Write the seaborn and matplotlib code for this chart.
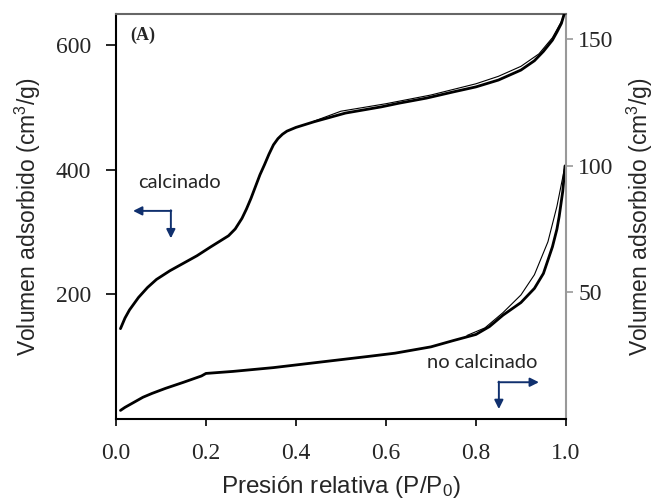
import matplotlib
matplotlib.use("Agg")
import matplotlib.pyplot as plt
import seaborn as sns
import pandas as pd

# --- data -------------------------------------------------------------
calc_ads_x = [0.01, 0.02, 0.03, 0.05, 0.07, 0.09, 0.12, 0.15, 0.18, 0.21, 0.23, 0.25,
              0.265, 0.28, 0.29, 0.30, 0.31, 0.32, 0.33, 0.34, 0.35, 0.36, 0.37, 0.38,
              0.40, 0.44, 0.51, 0.59, 0.63, 0.69, 0.75, 0.80, 0.85, 0.90, 0.93, 0.95,
              0.97, 0.98, 0.99, 0.997]
calc_ads_y = [145, 162, 175, 195, 211, 224, 238, 250, 262, 276, 285, 294,
              305, 322, 337, 354, 373, 392, 408, 425, 440, 450, 457, 462,
              468, 477, 491, 501, 507, 515, 525, 533, 544, 560, 575, 590,
              608, 621, 635, 652]
calc_des_x = [0.44, 0.50, 0.60, 0.70, 0.80, 0.85, 0.90, 0.94, 0.97, 0.99, 0.997]
calc_des_y = [478, 494, 506, 520, 538, 550, 566, 586, 612, 638, 652]

nocalc_ads_x = [0.01, 0.02, 0.04, 0.06, 0.08, 0.11, 0.15, 0.19, 0.20, 0.26, 0.35, 0.45,
                0.56, 0.62, 0.70, 0.75, 0.80, 0.83, 0.86, 0.88, 0.90, 0.93, 0.95, 0.97,
                0.98, 0.985, 0.993, 0.998]
nocalc_ads_y = [3.4, 4.6, 6.6, 8.6, 10.1, 12.1, 14.5, 17.0, 18.0, 18.8, 20.3, 22.4,
                24.7, 26.0, 28.5, 31.0, 33.4, 36.5, 41.0, 43.5, 46.0, 51.6, 57.5, 68.0,
                75.0, 80.0, 90.0, 100.0]
nocalc_des_x = [0.78, 0.82, 0.86, 0.90, 0.93, 0.96, 0.98, 0.998]
nocalc_des_y = [33, 36, 42, 49, 57, 70, 84, 100]

x_ticks = [0.0, 0.2, 0.4, 0.6, 0.8, 1.0]
left_ticks = [200, 400, 600]
right_ticks = [50, 100, 150]

# --- style ------------------------------------------------------------
sns.set_style("white")
plt.rcParams["font.family"] = ["Liberation Sans", "DejaVu Sans"]
plt.rcParams["mathtext.fontset"] = "custom"
plt.rcParams["mathtext.rm"] = "Liberation Sans"
plt.rcParams["mathtext.it"] = "Liberation Sans"

fig = plt.figure(figsize=(6.65, 5), dpi=100)
ax = fig.add_axes([0.1744, 0.162, 0.6766, 0.81])
ax2 = ax.twinx()

df_ca = pd.DataFrame({"x": calc_ads_x, "y": calc_ads_y})
df_cd = pd.DataFrame({"x": calc_des_x, "y": calc_des_y})
df_na = pd.DataFrame({"x": nocalc_ads_x, "y": nocalc_ads_y})
df_nd = pd.DataFrame({"x": nocalc_des_x, "y": nocalc_des_y})

sns.lineplot(data=df_cd, x="x", y="y", ax=ax, color="black", lw=0.8, sort=False)
sns.lineplot(data=df_ca, x="x", y="y", ax=ax, color="black", lw=2.0, sort=False)
sns.lineplot(data=df_nd, x="x", y="y", ax=ax2, color="black", lw=0.8, sort=False)
sns.lineplot(data=df_na, x="x", y="y", ax=ax2, color="black", lw=2.0, sort=False)

ax.set_xlim(0, 1.0)
ax.set_ylim(0, 650)
ax2.set_ylim(0, 160)

serif = "Liberation Serif"
ax.set_xticks(x_ticks)
ax.set_xticklabels([f"{v:.1f}" for v in x_ticks], fontfamily=serif, fontsize=17)
ax.set_yticks(left_ticks)
ax.set_yticklabels([str(v) for v in left_ticks], fontfamily=serif, fontsize=17)
ax2.set_yticks(right_ticks)
ax2.set_yticklabels([str(v) for v in right_ticks], fontfamily=serif, fontsize=17)

ax.tick_params(axis="x", direction="out", length=5, width=1.2, color="black",
               bottom=True, pad=12)
ax.tick_params(axis="y", direction="out", length=7, width=1.2, color="black",
               left=True, pad=11)
ax2.tick_params(axis="y", direction="out", length=5, width=1.2, color="#999999",
                right=True, pad=4)

for name, sp in ax.spines.items():
    sp.set_visible(False)
for name, sp in ax2.spines.items():
    sp.set_visible(True)
ax2.spines["left"].set_color("black")
ax2.spines["left"].set_linewidth(1.5)
ax2.spines["bottom"].set_color("black")
ax2.spines["bottom"].set_linewidth(1.5)
ax2.spines["right"].set_color("#999999")
ax2.spines["right"].set_linewidth(1.5)
ax2.spines["top"].set_color("#666666")
ax2.spines["top"].set_linewidth(1.5)

ax.set_xlabel("Presión relativa (P/P$_0$)", fontsize=17.5)
ax.set_ylabel("Volumen adsorbido (cm$^3$/g)", fontsize=16.5)
ax2.set_ylabel("Volumen adsorbido (cm$^3$/g)", fontsize=16.5)
for lab in (ax.xaxis.label, ax.yaxis.label, ax2.yaxis.label):
    lab.set_va("center")
    lab.set_ha("center")
    lab.set_rotation_mode("anchor")
ax.xaxis.set_label_coords(0.5, -0.168)
ax.yaxis.set_label_coords(-0.196, 0.5)
ax2.yaxis.set_label_coords(1.164, 0.5)

ax.text(0.031, 616, "(A)", fontfamily=serif, fontweight="bold", fontsize=13,
        ha="left", va="center")

lab_font = ["Lato", "DejaVu Sans"]
ax.text(0.049, 379, "calcinado", fontfamily=lab_font, fontsize=14.5, ha="left", va="center")
ax.text(0.691, 90, "no calcinado", fontfamily=lab_font, fontsize=14.5, ha="left", va="center")

navy = "#10306e"
ap = dict(arrowstyle="-|>", color=navy, lw=1.4, mutation_scale=13, shrinkA=0, shrinkB=0)
ax.annotate("", xy=(0.038, 334), xytext=(0.123, 334), arrowprops=ap)
ax.annotate("", xy=(0.122, 290), xytext=(0.122, 335), arrowprops=ap)
ax.annotate("", xy=(0.94, 59), xytext=(0.850, 59), arrowprops=ap)
ax.annotate("", xy=(0.851, 16), xytext=(0.851, 60), arrowprops=ap)

ax.set_zorder(ax2.get_zorder() + 1)
ax.patch.set_visible(False)

fig.savefig("out.png", dpi=100)
